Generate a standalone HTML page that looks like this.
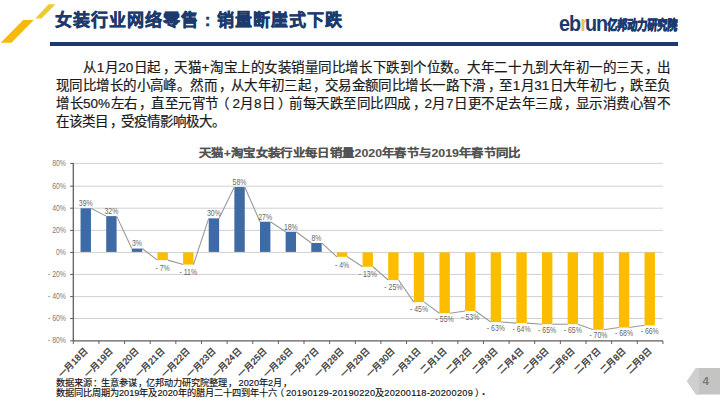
<!DOCTYPE html>
<html lang="zh-CN">
<head>
<meta charset="utf-8">
<style>
html,body{margin:0;padding:0;background:#fff;}
body{width:720px;height:405px;position:relative;overflow:hidden;font-family:"Liberation Sans",sans-serif;}
.abs{position:absolute;}
#title{left:55px;top:9px;font-size:17px;font-weight:bold;color:#1c3a6d;white-space:nowrap;line-height:24px;letter-spacing:1px;-webkit-text-stroke:0.5px #1c3a6d;}
#title .co{display:inline-block;width:18px;text-align:center;}
#rule{left:50px;top:42px;width:628px;height:3.6px;background:#1c3a6d;}
#logo{left:559px;top:12px;white-space:nowrap;}
#logo .eb{display:inline-block;font-size:22px;font-weight:bold;color:#1c3a6d;letter-spacing:-1.1px;line-height:24px;transform:scaleX(0.9);transform-origin:0 0;}
#logo .r{color:#e9c34e;letter-spacing:-3.3px;}
#logo .cn{position:absolute;left:48.6px;top:6px;font-size:14px;line-height:14px;font-weight:bold;color:#1c3a6d;letter-spacing:-0.2px;transform:scaleX(0.72) skewX(-5deg);transform-origin:0 0;-webkit-text-stroke:0.9px #1c3a6d;}
#para{left:56px;top:58.6px;width:614px;font-size:13.5px;line-height:18.05px;color:#1a1a1a;-webkit-text-stroke:0.2px #1a1a1a;}
#para div{text-align:justify;text-align-last:justify;white-space:nowrap;}
#para div.last{text-align-last:left;}
.cm{position:relative;left:0.13em;}
.lp{position:relative;left:-0.2em;}
.rp{position:relative;left:0.2em;}
#ctitle{left:199px;top:145.8px;font-size:12px;transform:scale(1.03,0.93);transform-origin:0 0;font-weight:bold;color:#525252;white-space:nowrap;line-height:16px;-webkit-text-stroke:0.1px #525252;}
#foot{left:56px;top:377.5px;font-size:9.2px;line-height:10px;color:#111;-webkit-text-stroke:0.15px #111;white-space:nowrap;transform-origin:0 0;}
#foot div{transform-origin:0 0;}
#f1{transform:scaleX(1.0);}
#f2 .d{letter-spacing:0.27px;}
.rp2{position:relative;left:1.5px;}
.dot{position:relative;left:0px;top:-0.8px;font-size:11px;line-height:0;}
svg{position:absolute;left:0;top:0;}
.yl{font-size:9.6px;fill:#7a7a7a;}
.dl{font-size:9.4px;fill:#666;}
.cl{font-size:9px;fill:#333;font-weight:500;stroke:#333;stroke-width:0.3px;}
</style>
</head>
<body>
<svg width="720" height="405" viewBox="0 0 720 405">
<polygon points="48.6,4.2 55.6,4.2 41.5,18.4 35.2,18.4" fill="#eccb34"/>
<polygon points="23.2,20.1 33.8,20.1 11.4,42.8 0.6,42.8" fill="#f6b90c"/>
<polygon points="687,381.3 696,368 720,368 720,394.5 696,394.5" fill="#c4c4c4"/>
<polygon points="687,381.3 696,368 699,368 699,394.5 696,394.5" fill="#cfcfcf"/>
<text x="705.6" y="385.4" font-size="11.5" font-weight="bold" fill="#7b7b7b" text-anchor="middle">4</text>
<line x1="73.3" y1="163.40" x2="662.90" y2="163.40" stroke="#d0d0d0" stroke-width="1"/>
<line x1="70.1" y1="163.40" x2="73.3" y2="163.40" stroke="#5f5f5f" stroke-width="1"/>
<text transform="translate(66 165.90) scale(0.72 1)" class="yl" text-anchor="end">80%</text>
<line x1="73.3" y1="186.20" x2="662.90" y2="186.20" stroke="#d0d0d0" stroke-width="1"/>
<line x1="70.1" y1="186.20" x2="73.3" y2="186.20" stroke="#5f5f5f" stroke-width="1"/>
<text transform="translate(66 188.70) scale(0.72 1)" class="yl" text-anchor="end">60%</text>
<line x1="73.3" y1="208.20" x2="662.90" y2="208.20" stroke="#d0d0d0" stroke-width="1"/>
<line x1="70.1" y1="208.20" x2="73.3" y2="208.20" stroke="#5f5f5f" stroke-width="1"/>
<text transform="translate(66 210.70) scale(0.72 1)" class="yl" text-anchor="end">40%</text>
<line x1="73.3" y1="230.40" x2="662.90" y2="230.40" stroke="#d0d0d0" stroke-width="1"/>
<line x1="70.1" y1="230.40" x2="73.3" y2="230.40" stroke="#5f5f5f" stroke-width="1"/>
<text transform="translate(66 232.90) scale(0.72 1)" class="yl" text-anchor="end">20%</text>
<line x1="73.3" y1="252.40" x2="662.90" y2="252.40" stroke="#d0d0d0" stroke-width="1"/>
<line x1="70.1" y1="252.40" x2="73.3" y2="252.40" stroke="#5f5f5f" stroke-width="1"/>
<text transform="translate(66 254.90) scale(0.72 1)" class="yl" text-anchor="end">0%</text>
<line x1="73.3" y1="274.40" x2="662.90" y2="274.40" stroke="#d0d0d0" stroke-width="1"/>
<line x1="70.1" y1="274.40" x2="73.3" y2="274.40" stroke="#5f5f5f" stroke-width="1"/>
<text transform="translate(66 276.90) scale(0.72 1)" class="yl" text-anchor="end">- 20%</text>
<line x1="73.3" y1="296.60" x2="662.90" y2="296.60" stroke="#d0d0d0" stroke-width="1"/>
<line x1="70.1" y1="296.60" x2="73.3" y2="296.60" stroke="#5f5f5f" stroke-width="1"/>
<text transform="translate(66 299.10) scale(0.72 1)" class="yl" text-anchor="end">- 40%</text>
<line x1="73.3" y1="318.50" x2="662.90" y2="318.50" stroke="#d0d0d0" stroke-width="1"/>
<line x1="70.1" y1="318.50" x2="73.3" y2="318.50" stroke="#5f5f5f" stroke-width="1"/>
<text transform="translate(66 321.00) scale(0.72 1)" class="yl" text-anchor="end">- 60%</text>
<line x1="70.1" y1="340.80" x2="73.3" y2="340.80" stroke="#5f5f5f" stroke-width="1"/>
<text transform="translate(66 343.30) scale(0.72 1)" class="yl" text-anchor="end">- 80%</text>
<line x1="73.3" y1="162.90" x2="73.3" y2="341.30" stroke="#5f5f5f" stroke-width="1.3"/>
<line x1="73.3" y1="340.80" x2="662.90" y2="340.80" stroke="#5f5f5f" stroke-width="1.3"/>
<line x1="73.30" y1="340.80" x2="73.30" y2="344.00" stroke="#5f5f5f" stroke-width="1"/>
<line x1="98.94" y1="340.80" x2="98.94" y2="344.00" stroke="#5f5f5f" stroke-width="1"/>
<line x1="124.57" y1="340.80" x2="124.57" y2="344.00" stroke="#5f5f5f" stroke-width="1"/>
<line x1="150.20" y1="340.80" x2="150.20" y2="344.00" stroke="#5f5f5f" stroke-width="1"/>
<line x1="175.84" y1="340.80" x2="175.84" y2="344.00" stroke="#5f5f5f" stroke-width="1"/>
<line x1="201.48" y1="340.80" x2="201.48" y2="344.00" stroke="#5f5f5f" stroke-width="1"/>
<line x1="227.11" y1="340.80" x2="227.11" y2="344.00" stroke="#5f5f5f" stroke-width="1"/>
<line x1="252.75" y1="340.80" x2="252.75" y2="344.00" stroke="#5f5f5f" stroke-width="1"/>
<line x1="278.38" y1="340.80" x2="278.38" y2="344.00" stroke="#5f5f5f" stroke-width="1"/>
<line x1="304.01" y1="340.80" x2="304.01" y2="344.00" stroke="#5f5f5f" stroke-width="1"/>
<line x1="329.65" y1="340.80" x2="329.65" y2="344.00" stroke="#5f5f5f" stroke-width="1"/>
<line x1="355.29" y1="340.80" x2="355.29" y2="344.00" stroke="#5f5f5f" stroke-width="1"/>
<line x1="380.92" y1="340.80" x2="380.92" y2="344.00" stroke="#5f5f5f" stroke-width="1"/>
<line x1="406.56" y1="340.80" x2="406.56" y2="344.00" stroke="#5f5f5f" stroke-width="1"/>
<line x1="432.19" y1="340.80" x2="432.19" y2="344.00" stroke="#5f5f5f" stroke-width="1"/>
<line x1="457.83" y1="340.80" x2="457.83" y2="344.00" stroke="#5f5f5f" stroke-width="1"/>
<line x1="483.46" y1="340.80" x2="483.46" y2="344.00" stroke="#5f5f5f" stroke-width="1"/>
<line x1="509.10" y1="340.80" x2="509.10" y2="344.00" stroke="#5f5f5f" stroke-width="1"/>
<line x1="534.73" y1="340.80" x2="534.73" y2="344.00" stroke="#5f5f5f" stroke-width="1"/>
<line x1="560.37" y1="340.80" x2="560.37" y2="344.00" stroke="#5f5f5f" stroke-width="1"/>
<line x1="586.00" y1="340.80" x2="586.00" y2="344.00" stroke="#5f5f5f" stroke-width="1"/>
<line x1="611.63" y1="340.80" x2="611.63" y2="344.00" stroke="#5f5f5f" stroke-width="1"/>
<line x1="637.27" y1="340.80" x2="637.27" y2="344.00" stroke="#5f5f5f" stroke-width="1"/>
<line x1="662.90" y1="340.80" x2="662.90" y2="344.00" stroke="#5f5f5f" stroke-width="1"/>
<rect x="80.55" y="208.30" width="10.4" height="43.60" fill="#3e6aa5"/>
<rect x="106.19" y="216.12" width="10.4" height="35.78" fill="#3e6aa5"/>
<rect x="131.82" y="248.55" width="10.4" height="3.35" fill="#3e6aa5"/>
<rect x="157.46" y="252.40" width="10.4" height="7.73" fill="#fcbd00"/>
<rect x="183.09" y="252.40" width="10.4" height="12.16" fill="#fcbd00"/>
<rect x="208.73" y="218.36" width="10.4" height="33.54" fill="#3e6aa5"/>
<rect x="234.36" y="187.06" width="10.4" height="64.84" fill="#3e6aa5"/>
<rect x="260.00" y="221.71" width="10.4" height="30.19" fill="#3e6aa5"/>
<rect x="285.63" y="231.78" width="10.4" height="20.12" fill="#3e6aa5"/>
<rect x="311.27" y="242.96" width="10.4" height="8.94" fill="#3e6aa5"/>
<rect x="336.90" y="252.40" width="10.4" height="4.42" fill="#fcbd00"/>
<rect x="362.54" y="252.40" width="10.4" height="14.36" fill="#fcbd00"/>
<rect x="388.17" y="252.40" width="10.4" height="27.62" fill="#fcbd00"/>
<rect x="413.81" y="252.40" width="10.4" height="49.72" fill="#fcbd00"/>
<rect x="439.44" y="252.40" width="10.4" height="60.78" fill="#fcbd00"/>
<rect x="465.08" y="252.40" width="10.4" height="58.57" fill="#fcbd00"/>
<rect x="490.71" y="252.40" width="10.4" height="69.61" fill="#fcbd00"/>
<rect x="516.35" y="252.40" width="10.4" height="70.72" fill="#fcbd00"/>
<rect x="541.98" y="252.40" width="10.4" height="71.83" fill="#fcbd00"/>
<rect x="567.62" y="252.40" width="10.4" height="71.83" fill="#fcbd00"/>
<rect x="593.25" y="252.40" width="10.4" height="77.35" fill="#fcbd00"/>
<rect x="618.88" y="252.40" width="10.4" height="75.14" fill="#fcbd00"/>
<rect x="644.52" y="252.40" width="10.4" height="72.93" fill="#fcbd00"/>
<line x1="90.95" y1="208.30" x2="106.19" y2="216.12" stroke="#9a9a9a" stroke-width="1.1"/>
<line x1="116.59" y1="216.12" x2="131.82" y2="248.55" stroke="#9a9a9a" stroke-width="1.1"/>
<line x1="142.22" y1="248.55" x2="157.46" y2="260.13" stroke="#9a9a9a" stroke-width="1.1"/>
<line x1="167.85" y1="260.13" x2="183.09" y2="264.56" stroke="#9a9a9a" stroke-width="1.1"/>
<line x1="193.49" y1="264.56" x2="208.73" y2="218.36" stroke="#9a9a9a" stroke-width="1.1"/>
<line x1="219.12" y1="218.36" x2="234.36" y2="187.06" stroke="#9a9a9a" stroke-width="1.1"/>
<line x1="244.76" y1="187.06" x2="260.00" y2="221.71" stroke="#9a9a9a" stroke-width="1.1"/>
<line x1="270.40" y1="221.71" x2="285.63" y2="231.78" stroke="#9a9a9a" stroke-width="1.1"/>
<line x1="296.03" y1="231.78" x2="311.27" y2="242.96" stroke="#9a9a9a" stroke-width="1.1"/>
<line x1="321.67" y1="242.96" x2="336.90" y2="256.82" stroke="#9a9a9a" stroke-width="1.1"/>
<line x1="347.30" y1="256.82" x2="362.54" y2="266.76" stroke="#9a9a9a" stroke-width="1.1"/>
<line x1="372.94" y1="266.76" x2="388.17" y2="280.02" stroke="#9a9a9a" stroke-width="1.1"/>
<line x1="398.57" y1="280.02" x2="413.81" y2="302.12" stroke="#9a9a9a" stroke-width="1.1"/>
<line x1="424.20" y1="302.12" x2="439.44" y2="313.18" stroke="#9a9a9a" stroke-width="1.1"/>
<line x1="449.84" y1="313.18" x2="465.08" y2="310.97" stroke="#9a9a9a" stroke-width="1.1"/>
<line x1="475.48" y1="310.97" x2="490.71" y2="322.01" stroke="#9a9a9a" stroke-width="1.1"/>
<line x1="501.11" y1="322.01" x2="516.35" y2="323.12" stroke="#9a9a9a" stroke-width="1.1"/>
<line x1="526.75" y1="323.12" x2="541.98" y2="324.23" stroke="#9a9a9a" stroke-width="1.1"/>
<line x1="552.38" y1="324.23" x2="567.62" y2="324.23" stroke="#9a9a9a" stroke-width="1.1"/>
<line x1="578.02" y1="324.23" x2="593.25" y2="329.75" stroke="#9a9a9a" stroke-width="1.1"/>
<line x1="603.65" y1="329.75" x2="618.88" y2="327.54" stroke="#9a9a9a" stroke-width="1.1"/>
<line x1="629.29" y1="327.54" x2="644.52" y2="325.33" stroke="#9a9a9a" stroke-width="1.1"/>
<text transform="translate(85.75 206.20) scale(0.74 1)" class="dl" text-anchor="middle">39%</text>
<text transform="translate(111.39 214.02) scale(0.74 1)" class="dl" text-anchor="middle">32%</text>
<text transform="translate(137.02 246.45) scale(0.74 1)" class="dl" text-anchor="middle">3%</text>
<text transform="translate(162.66 270.90) scale(0.74 1)" class="dl" text-anchor="middle">- 7%</text>
<text transform="translate(188.29 275.18) scale(0.74 1)" class="dl" text-anchor="middle">- 11%</text>
<text transform="translate(213.93 216.26) scale(0.74 1)" class="dl" text-anchor="middle">30%</text>
<text transform="translate(239.56 184.96) scale(0.74 1)" class="dl" text-anchor="middle">58%</text>
<text transform="translate(265.20 219.61) scale(0.74 1)" class="dl" text-anchor="middle">27%</text>
<text transform="translate(290.83 229.68) scale(0.74 1)" class="dl" text-anchor="middle">18%</text>
<text transform="translate(316.47 240.86) scale(0.74 1)" class="dl" text-anchor="middle">8%</text>
<text transform="translate(342.10 267.68) scale(0.74 1)" class="dl" text-anchor="middle">- 4%</text>
<text transform="translate(367.74 277.32) scale(0.74 1)" class="dl" text-anchor="middle">- 13%</text>
<text transform="translate(393.37 290.17) scale(0.74 1)" class="dl" text-anchor="middle">- 25%</text>
<text transform="translate(419.00 311.58) scale(0.74 1)" class="dl" text-anchor="middle">- 45%</text>
<text transform="translate(444.64 322.29) scale(0.74 1)" class="dl" text-anchor="middle">- 55%</text>
<text transform="translate(470.28 320.15) scale(0.74 1)" class="dl" text-anchor="middle">- 53%</text>
<text transform="translate(495.91 330.86) scale(0.74 1)" class="dl" text-anchor="middle">- 63%</text>
<text transform="translate(521.55 331.93) scale(0.74 1)" class="dl" text-anchor="middle">- 64%</text>
<text transform="translate(547.18 333.00) scale(0.74 1)" class="dl" text-anchor="middle">- 65%</text>
<text transform="translate(572.82 333.00) scale(0.74 1)" class="dl" text-anchor="middle">- 65%</text>
<text transform="translate(598.45 338.35) scale(0.74 1)" class="dl" text-anchor="middle">- 70%</text>
<text transform="translate(624.09 336.21) scale(0.74 1)" class="dl" text-anchor="middle">- 68%</text>
<text transform="translate(649.72 334.07) scale(0.74 1)" class="dl" text-anchor="middle">- 66%</text>
<text x="88.22" y="351.70" class="cl" text-anchor="end" transform="rotate(-45 88.22 351.70)">一月18日</text>
<text x="113.85" y="351.70" class="cl" text-anchor="end" transform="rotate(-45 113.85 351.70)">一月19日</text>
<text x="139.49" y="351.70" class="cl" text-anchor="end" transform="rotate(-45 139.49 351.70)">一月20日</text>
<text x="165.12" y="351.70" class="cl" text-anchor="end" transform="rotate(-45 165.12 351.70)">一月21日</text>
<text x="190.76" y="351.70" class="cl" text-anchor="end" transform="rotate(-45 190.76 351.70)">一月22日</text>
<text x="216.39" y="351.70" class="cl" text-anchor="end" transform="rotate(-45 216.39 351.70)">一月23日</text>
<text x="242.03" y="351.70" class="cl" text-anchor="end" transform="rotate(-45 242.03 351.70)">一月24日</text>
<text x="267.66" y="351.70" class="cl" text-anchor="end" transform="rotate(-45 267.66 351.70)">一月25日</text>
<text x="293.30" y="351.70" class="cl" text-anchor="end" transform="rotate(-45 293.30 351.70)">一月26日</text>
<text x="318.93" y="351.70" class="cl" text-anchor="end" transform="rotate(-45 318.93 351.70)">一月27日</text>
<text x="344.57" y="351.70" class="cl" text-anchor="end" transform="rotate(-45 344.57 351.70)">一月28日</text>
<text x="370.20" y="351.70" class="cl" text-anchor="end" transform="rotate(-45 370.20 351.70)">一月29日</text>
<text x="395.84" y="351.70" class="cl" text-anchor="end" transform="rotate(-45 395.84 351.70)">一月30日</text>
<text x="421.47" y="351.70" class="cl" text-anchor="end" transform="rotate(-45 421.47 351.70)">一月31日</text>
<text x="447.11" y="351.70" class="cl" text-anchor="end" transform="rotate(-45 447.11 351.70)">二月1日</text>
<text x="472.74" y="351.70" class="cl" text-anchor="end" transform="rotate(-45 472.74 351.70)">二月2日</text>
<text x="498.38" y="351.70" class="cl" text-anchor="end" transform="rotate(-45 498.38 351.70)">二月3日</text>
<text x="524.01" y="351.70" class="cl" text-anchor="end" transform="rotate(-45 524.01 351.70)">二月4日</text>
<text x="549.65" y="351.70" class="cl" text-anchor="end" transform="rotate(-45 549.65 351.70)">二月5日</text>
<text x="575.28" y="351.70" class="cl" text-anchor="end" transform="rotate(-45 575.28 351.70)">二月6日</text>
<text x="600.92" y="351.70" class="cl" text-anchor="end" transform="rotate(-45 600.92 351.70)">二月7日</text>
<text x="626.55" y="351.70" class="cl" text-anchor="end" transform="rotate(-45 626.55 351.70)">二月8日</text>
<text x="652.19" y="351.70" class="cl" text-anchor="end" transform="rotate(-45 652.19 351.70)">二月9日</text>
</svg>
<div id="title" class="abs">女装行业网络零售<span class="co">:</span>销量断崖式下跌</div>
<div id="rule" class="abs"></div>
<div id="logo" class="abs"><span class="eb">eb<span class="r">r</span>un</span><span class="cn">亿邦动力研究院</span></div>
<div id="para" class="abs">
<div>　　从1月20日起<span class="cm">，</span>天猫+淘宝上的女装销量同比增长下跌到个位数。大年二十九到大年初一的三天<span class="cm">，</span>出</div>
<div>现同比增长的小高峰。然而<span class="cm">，</span>从大年初三起<span class="cm">，</span>交易金额同比增长一路下滑<span class="cm">，</span>至1月31日大年初七<span class="cm">，</span>跌至负</div>
<div>增长50%左右<span class="cm">，</span>直至元宵节<span class="lp">（</span>2月8日<span class="rp">）</span>前每天跌至同比四成<span class="cm">，</span>2月7日更不足去年三成<span class="cm">，</span>显示消费心智不</div>
<div class="last">在该类目<span class="cm">，</span>受疫情影响极大。</div>
</div>
<div id="ctitle" class="abs">天猫+淘宝女装行业每日销量2020年春节与2019年春节同比</div>
<div id="foot" class="abs"><div id="f1">数据来源<span class="cm">：</span>生意参谋<span class="cm">，</span>亿邦动力研究院整理<span class="cm">，</span> 2020年2月<span class="cm">，</span></div><div id="f2">数据同比周期为2019年及2020年的腊月二十四到年十六<span class="lp">（</span><span class="d">20190129-20190220</span>及<span class="d">20200118-20200209</span><span class="rp2">）</span><b class="dot">.</b></div></div>
</body>
</html>
